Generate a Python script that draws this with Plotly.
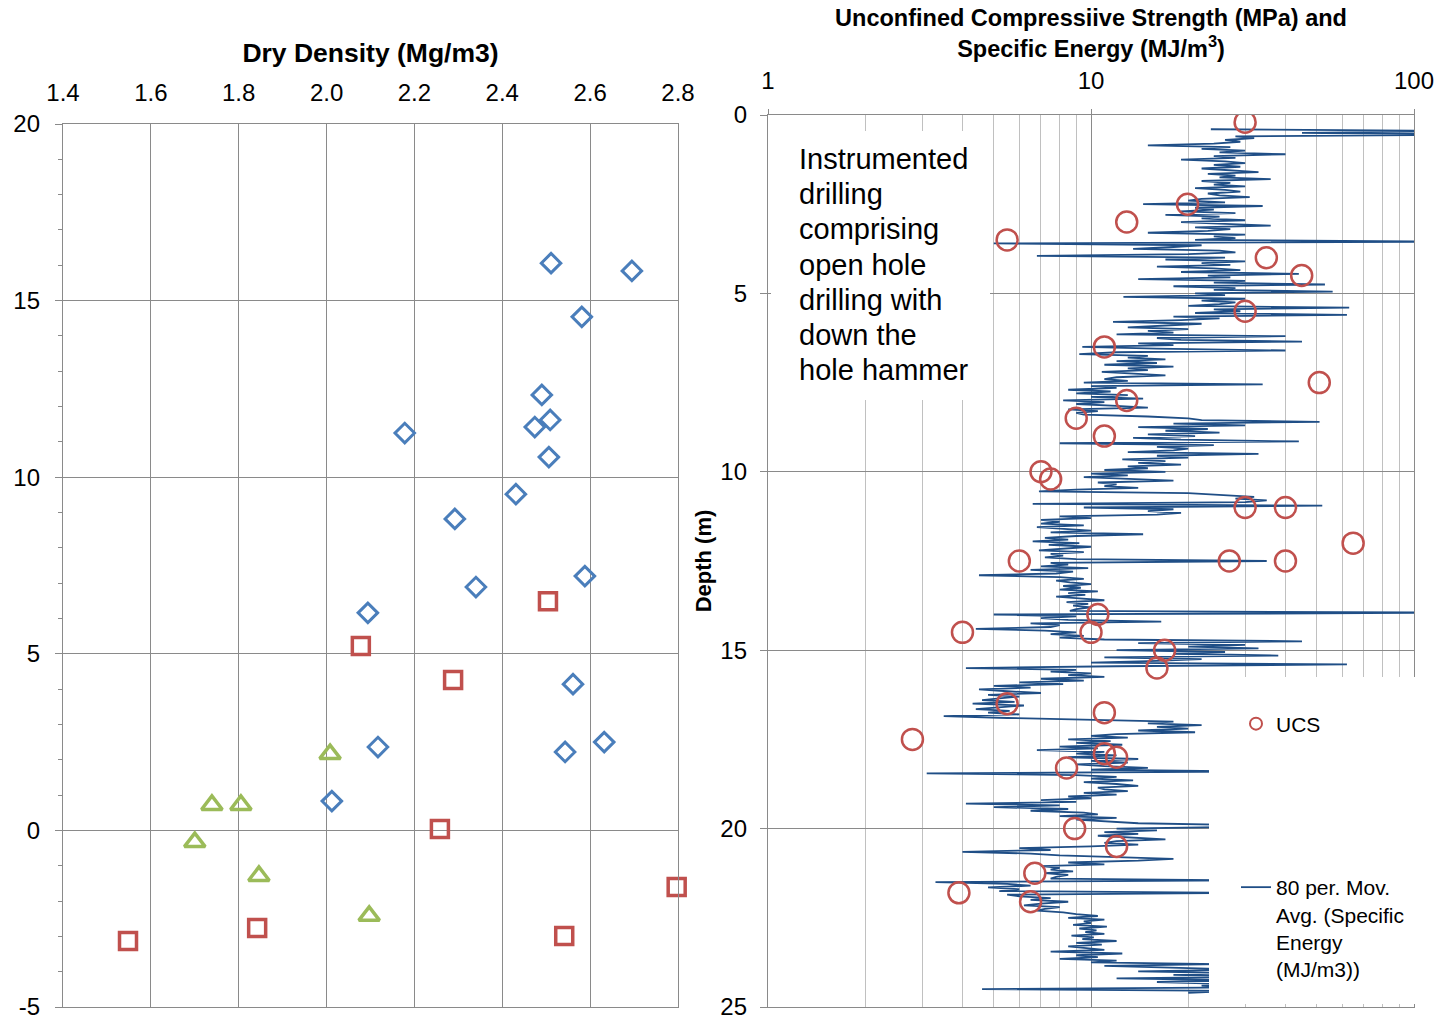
import numpy as np
import plotly.graph_objects as go

# ---------------- Left panel data (Dry density scatter) ----------------
blue_density = [2.511, 2.695, 2.581, 2.490, 2.509, 2.474, 2.178, 2.506, 2.431,
                2.292, 2.340, 2.588, 2.094, 2.561, 2.117, 2.543, 2.632, 2.012]
blue_value = [16.06, 15.84, 14.54, 12.33, 11.62, 11.42, 11.25, 10.57, 9.52,
              8.82, 6.89, 7.20, 6.16, 4.14, 2.36, 2.22, 2.50, 0.83]
red_density = [2.504, 2.078, 2.288, 2.258, 2.797, 2.541, 1.842, 1.548]
red_value = [6.49, 5.22, 4.26, 0.04, -1.60, -2.99, -2.76, -3.13]
green_density = [2.008, 1.739, 1.805, 1.700, 1.846, 2.097]
green_value = [2.16, 0.72, 0.72, -0.33, -1.29, -2.42]

left_x_ticks = [1.4, 1.6, 1.8, 2.0, 2.2, 2.4, 2.6, 2.8]
left_y_ticks = [-5, 0, 5, 10, 15, 20]

# ---------------- Right panel data (UCS and specific energy) ----------------
ucs_mpa = [30, 19.9, 12.9, 5.5, 34.9, 44.9, 30, 11.0, 50.9, 12.9, 9.0, 11.0,
           7.0, 7.5, 30, 40, 64.8, 6.0, 26.8, 40, 10.5, 4.0, 10.0, 16.9,
           16.0, 5.5, 11.0, 2.8, 11.0, 12.0, 8.4, 8.9, 12.0, 6.7, 3.9, 6.5]
ucs_depth = [0.2, 2.5, 3.0, 3.5, 4.0, 4.5, 5.5, 6.5, 7.5, 8.0, 8.5, 9.0,
             10.0, 10.2, 11.0, 11.0, 12.0, 12.5, 12.5, 12.5, 14.0, 14.5, 14.5, 15.0,
             15.5, 16.5, 16.75, 17.5, 17.9, 18.0, 18.3, 20.0, 20.5, 21.25, 21.8, 22.05]

# 80-period moving average of specific energy (MJ/m3), sampled every 0.05 m from 0.40 m
se_depth_start = 0.40
se_depth_step = 0.05
se_value = [
    23.5, 160, 45, 150, 28, 32, 26, 29, 24, 15,
    27, 22, 30, 25, 40, 24, 28, 19, 26, 30,
    24, 29, 22, 27, 33, 23, 28, 25, 36, 22,
    27, 24, 30, 21, 26, 29, 23, 25, 31, 22,
    20, 26, 14.5, 34, 21, 24, 19, 28, 17, 25,
    22, 30, 19, 26, 36, 21, 27, 23, 15, 30,
    24, 28, 21, 150, 5, 22, 18, 13.5, 25, 28,
    20, 6.8, 26, 17, 30, 22, 27, 16, 24, 29,
    19, 44, 23, 27, 14, 30, 24, 53, 18, 28,
    24, 56, 21, 26, 12.6, 30, 22, 28, 25, 20,
    63, 24, 29, 21, 62, 18, 25, 19, 11.7, 22,
    17, 13, 20, 15, 18, 12, 40, 16, 19, 45,
    14, 18, 9.4, 16, 40, 12, 9.2, 15, 13, 17,
    12, 16, 11, 18, 13, 15, 10.8, 14, 17, 12,
    11, 13, 9.5, 34, 10, 12, 8.5, 11.5, 9, 13,
    10, 14.5, 8.2, 11, 9, 12, 15, 8.5, 10.5, 9,
    9.5, 15, 20, 22, 51, 18, 30, 14, 23, 17,
    25, 15, 21, 13.5, 19, 44, 8, 24, 16, 20,
    18, 13, 33, 16, 20, 12.5, 17, 14, 19, 13,
    15, 11, 17, 10, 13, 9.5, 14, 18, 10.5, 12,
    11, 14, 9, 6.9, 20, 25, 32, 28, 35, 30,
    6.6, 52, 9.5, 18, 15, 19, 16, 8, 10, 7,
    8, 7, 9.5, 6.8, 8.5, 10, 7.5, 14.5, 9, 7.2,
    8.5, 6.6, 9.2, 7.4, 10, 8, 6.9, 9.5, 7.5, 8.2,
    7.2, 9, 35, 7.5, 8.5, 7, 9.8, 6.5, 8.8, 7.8,
    4.5, 8, 9.5, 7.8, 8.6, 10, 8.2, 9.3, 8, 10.5,
    8.5, 9.6, 7.8, 9.2, 11, 8.4, 9.8, 8.8, 10, 9,
    8.6, 150, 5, 9, 7, 8.5, 16.5, 6.5, 8, 7.5,
    4.4, 7.2, 9, 7.5, 9.5, 8, 11, 45, 14, 30,
    20, 33, 12, 26, 18, 38, 11, 22, 16, 10,
    62, 12, 4.1, 9, 7.5, 10, 8.5, 11, 7, 9.5,
    6, 8.2, 5, 6.5, 4.5, 5.5, 7, 4.8, 6, 5.2,
    4.6, 5.8, 4.3, 6.2, 5, 4.4, 5.6, 4.8, 6, 3.5,
    5.5, 9, 18, 15, 22, 16, 20, 14, 21, 12,
    10, 13, 8.5, 11.5, 9, 12.5, 8, 10.5, 6.8, 11,
    9, 12, 8.5, 14, 10, 13, 9, 11, 15, 10,
    30, 3.1, 9, 12, 10, 13.5, 9.5, 12, 14, 10.5,
    11, 13, 9.5, 12, 8.5, 10, 7, 9, 4.1, 8,
    5, 8.5, 6.5, 9.5, 10.5, 8, 12, 9, 11, 14,
    30, 28, 12, 16, 11, 14, 10.5, 13, 17, 12,
    11, 14, 10, 6, 7.5, 4, 6.5, 8, 12, 18,
    14, 8.5, 11, 7, 8, 7.5, 8.8, 7.2, 8.5, 7.8,
    7.5, 30, 3.3, 5.5, 6.5, 4.8, 6, 5.2, 30, 5.5,
    6, 7.5, 6.5, 8.5, 7, 6.2, 8, 7.2, 6.8, 8.2,
    9, 10.5, 8.5, 11, 9.5, 10, 8.8, 11.2, 9.2, 10.4,
    9.6, 11, 8.7, 10.2, 9.4, 12, 9, 10.8, 8.5, 10,
    11, 7.5, 12.5, 9, 10.5, 8, 12, 10, 25, 11,
    20, 30, 14, 28, 18, 35, 12, 30, 16, 26,
    22, 30, 4.6, 28, 20,
]
se_depth = se_depth_start + se_depth_step * np.arange(len(se_value))

right_x_major = [1, 10, 100]
right_x_minor = [2, 3, 4, 5, 6, 7, 8, 9, 20, 30, 40, 50, 60, 70, 80, 90]
right_y_ticks = [0, 5, 10, 15, 20, 25]

note_lines = ["Instrumented", "drilling", "comprising", "open hole",
              "drilling with", "down the", "hole hammer"]

# ---------------- Styling ----------------
W, H = 1447, 1020
FONT = "Liberation Sans, Arial, sans-serif"
BLUE = "#4a7ebb"
RED = "#c0504d"
GREEN = "#9bbb59"
NAVY = "#1f4e86"
GRID = "#8a8a8a"
GRID_LIGHT = "#c0c0c0"


def px(x):
    return x / W


def py(y):
    return 1 - y / H


fig = go.Figure()

fig.add_trace(go.Scatter(
    x=blue_density, y=blue_value, mode="markers", xaxis="x", yaxis="y", cliponaxis=False,
    marker=dict(symbol="diamond-open", size=15, color=BLUE, line=dict(width=3, color=BLUE)),
    showlegend=False, name="Series 1"))
fig.add_trace(go.Scatter(
    x=red_density, y=red_value, mode="markers", xaxis="x", yaxis="y", cliponaxis=False,
    marker=dict(symbol="square-open", size=17, color=RED, line=dict(width=3.5, color=RED)),
    showlegend=False, name="Series 2"))
fig.add_trace(go.Scatter(
    x=green_density, y=green_value, mode="markers", xaxis="x", yaxis="y", cliponaxis=False,
    marker=dict(symbol="triangle-up-open", size=18, color=GREEN, line=dict(width=3.5, color=GREEN)),
    showlegend=False, name="Series 3"))

fig.add_trace(go.Scatter(
    x=se_value, y=se_depth, mode="lines", xaxis="x2", yaxis="y2",
    line=dict(color=NAVY, width=1.8),
    name="80 per. Mov.<br>Avg. (Specific<br>Energy<br>(MJ/m3))", legend="legend2"))
fig.add_trace(go.Scatter(
    x=ucs_mpa, y=ucs_depth, mode="markers", xaxis="x2", yaxis="y2",
    marker=dict(symbol="circle-open", size=21, color=RED, line=dict(width=2.5, color=RED)),
    name="UCS", legend="legend"))

shapes = [
    dict(type="rect", xref="paper", yref="paper", layer="above",
         x0=px(771), x1=px(990), y0=py(400), y1=py(131),
         fillcolor="white", line=dict(width=0)),
    dict(type="rect", xref="paper", yref="paper", layer="above",
         x0=px(1209), x1=px(1447), y0=py(1004), y1=py(677),
         fillcolor="white", line=dict(width=0)),
]

annotations = []
for i, t in enumerate(note_lines):
    annotations.append(dict(
        text=t, xref="paper", yref="paper", x=px(797), y=py(159 + 35.2 * i),
        xanchor="left", yanchor="middle", showarrow=False,
        font=dict(size=29, color="black", family=FONT)))

fig.update_layout(
    width=W, height=H, margin=dict(l=0, r=0, t=0, b=0, autoexpand=False),
    paper_bgcolor="white", plot_bgcolor="white",
    font=dict(family=FONT, size=24, color="black"),
    shapes=shapes, annotations=annotations,
    xaxis=dict(
        domain=[px(63), px(678)], range=[1.4, 2.8], side="top", anchor="y", automargin=False,
        tickmode="array", tickvals=left_x_ticks, ticktext=[f"{v:.1f}" for v in left_x_ticks],
        showgrid=True, gridcolor=GRID, gridwidth=1.3, zeroline=False,
        showline=True, linecolor=GRID, linewidth=1.3, mirror=True, ticks="",
        ticklabelstandoff=12, ticklabeloverflow="allow",
        title=dict(text="<b>Dry Density (Mg/m3)</b>", font=dict(size=26.5), standoff=8)),
    yaxis=dict(
        domain=[py(1007), py(124)], range=[-5, 20], anchor="x", automargin=False,
        tickmode="array", tickvals=left_y_ticks, ticktext=[str(v) for v in left_y_ticks],
        showgrid=True, gridcolor=GRID, gridwidth=1.3, zeroline=False,
        showline=True, linecolor=GRID, linewidth=1.3, mirror=True,
        ticks="outside", ticklen=7, tickcolor=GRID, tickwidth=1.3,
        minor=dict(dtick=1, tick0=0, ticks="outside", ticklen=4, tickcolor=GRID, showgrid=False),
        ticklabelstandoff=10, ticklabeloverflow="allow"),
    xaxis2=dict(
        type="log", domain=[px(768), px(1414)], range=[0, 2], side="top", anchor="y2",
        automargin=False,
        tickmode="array", tickvals=right_x_major, ticktext=["1", "10", "100"],
        showgrid=True, gridcolor=GRID, gridwidth=1.3, zeroline=False,
        showline=True, linecolor=GRID, linewidth=1.3, mirror=True,
        ticks="outside", ticklen=5, tickcolor=GRID,
        minor=dict(tickmode="array", tickvals=right_x_minor, showgrid=True,
                   gridcolor=GRID_LIGHT, gridwidth=1.3, ticks=""),
        ticklabelstandoff=10, ticklabeloverflow="allow",
        title=dict(text="<b>Unconfined Compressiive Strength (MPa) and<br>Specific Energy (MJ/m<sup>3</sup>)</b>",
                   font=dict(size=23.5), standoff=3)),
    yaxis2=dict(
        domain=[py(1007), py(115)], range=[25, 0], anchor="x2", automargin=False,
        tickmode="array", tickvals=right_y_ticks,
        showgrid=True, gridcolor=GRID, gridwidth=1.3, zeroline=False,
        showline=True, linecolor=GRID, linewidth=1.3, mirror=True,
        ticks="outside", ticklen=7, tickcolor=GRID,
        ticklabelstandoff=8, ticklabeloverflow="allow",
        title=dict(text="<b>Depth (m)</b>", font=dict(size=22), standoff=2)),
    legend=dict(x=px(1236), y=py(724), xanchor="left", yanchor="middle",
                font=dict(size=21), bgcolor="rgba(0,0,0,0)", itemsizing="constant"),
    legend2=dict(x=px(1236), y=py(867), xanchor="left", yanchor="top", valign="top",
                 font=dict(size=21), bgcolor="rgba(0,0,0,0)"),
)

fig.write_html("out.html")
